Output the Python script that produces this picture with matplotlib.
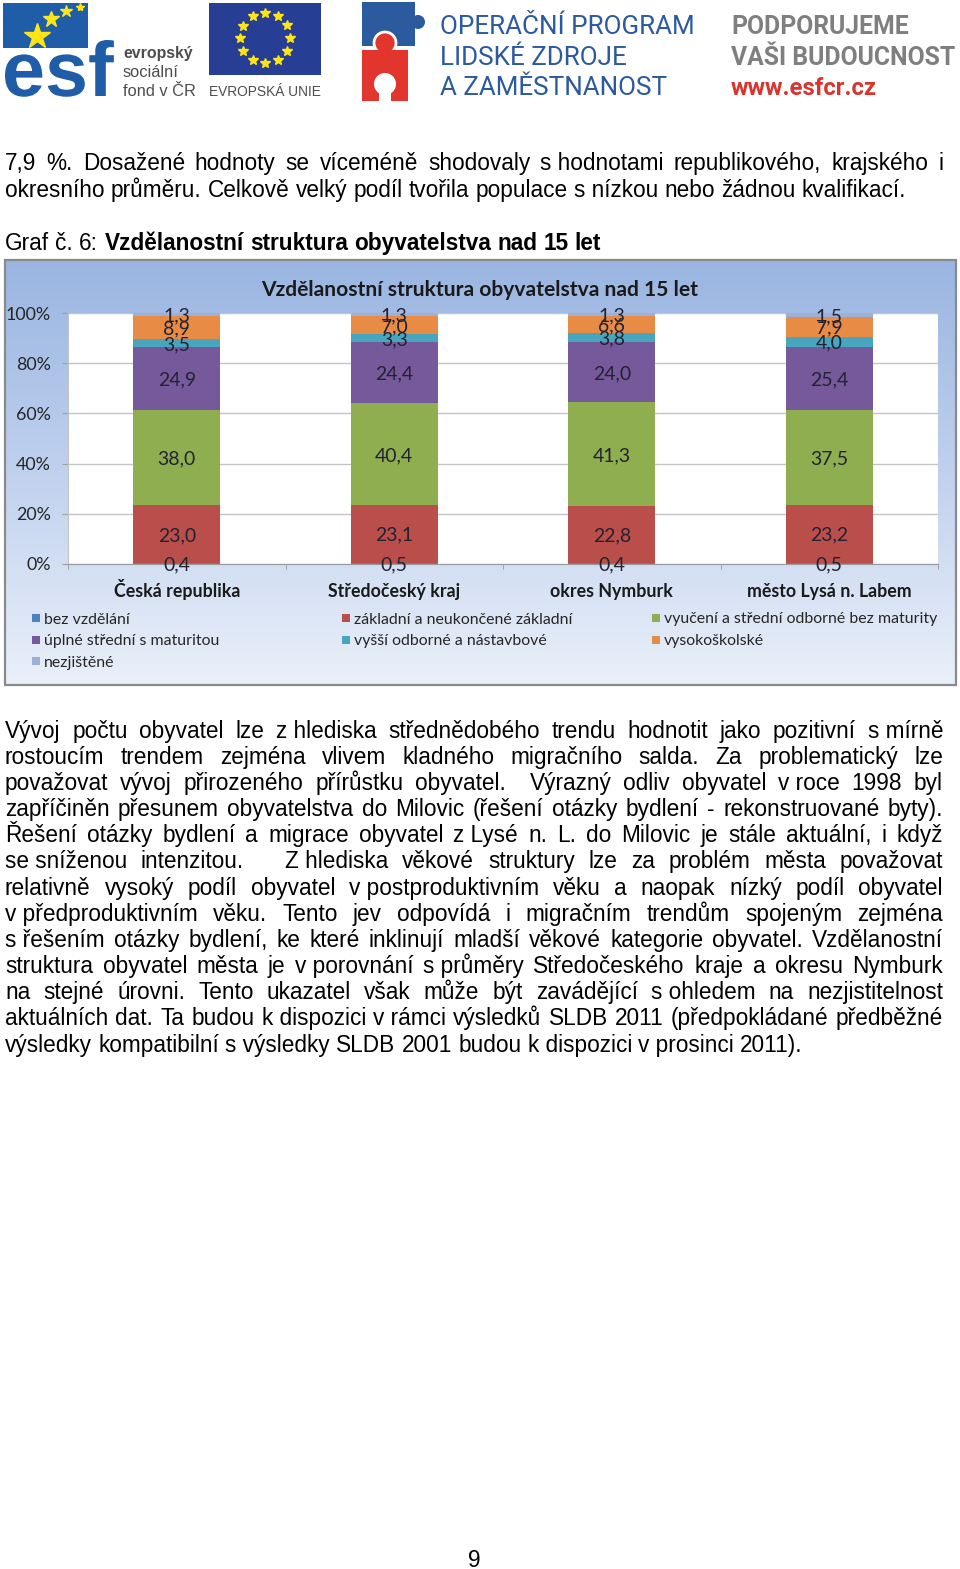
import matplotlib
matplotlib.use("Agg")
import matplotlib.pyplot as plt
import numpy as np
from matplotlib import font_manager
from matplotlib.patches import Rectangle, Circle
from matplotlib.colors import LinearSegmentedColormap
import matplotlib.patheffects as pe

# ---------------- data ----------------
categories = ["Česká republika", "Středočeský kraj", "okres Nymburk", "město Lysá n. Labem"]
series_names = ["bez vzdělání", "základní a neukončené základní",
                "vyučení a střední odborné bez maturity", "úplné střední s maturitou",
                "vyšší odborné a nástavbové", "vysokoškolské", "nezjištěné"]
bez_vzdelani = [0.4, 0.5, 0.4, 0.5]
zakladni = [23.0, 23.1, 22.8, 23.2]
vyuceni = [38.0, 40.4, 41.3, 37.5]
uplne_stredni = [24.9, 24.4, 24.0, 25.4]
vyssi_odborne = [3.5, 3.3, 3.8, 4.0]
vysokoskolske = [8.9, 7.0, 6.6, 7.9]
nezjistene = [1.3, 1.3, 1.3, 1.5]
y_ticks = [0, 20, 40, 60, 80, 100]
y_tick_labels = ["0%", "20%", "40%", "60%", "80%", "100%"]
chart_title = "Vzdělanostní struktura obyvatelstva nad 15 let"

series_values = [bez_vzdelani, zakladni, vyuceni, uplne_stredni,
                 vyssi_odborne, vysokoskolske, nezjistene]
colors = ["#4F81BD", "#BA4E4B", "#8FAE50", "#76599B", "#47A5BD", "#E88B44", "#9DB0D6"]

para1 = [
    "7,9 %. Dosažené hodnoty se víceméně shodovaly s\u00a0hodnotami republikového, krajského i",
    "okresního průměru. Celkově velký podíl tvořila populace s\u00a0nízkou nebo žádnou kvalifikací.",
]
para2 = [
    "Vývoj počtu obyvatel lze z\u00a0hlediska střednědobého trendu hodnotit jako pozitivní s\u00a0mírně",
    "rostoucím trendem zejména vlivem kladného migračního salda. Za problematický lze",
    "považovat vývoj přirozeného přírůstku obyvatel.  Výrazný odliv obyvatel v\u00a0roce 1998 byl",
    "zapříčiněn přesunem obyvatelstva do Milovic (řešení otázky bydlení - rekonstruované byty).",
    "Řešení otázky bydlení a migrace obyvatel z\u00a0Lysé n. L. do Milovic je stále aktuální, i když",
    "se\u00a0sníženou intenzitou.   Z\u00a0hlediska věkové struktury lze za problém města považovat",
    "relativně vysoký podíl obyvatel v\u00a0postproduktivním věku a naopak nízký podíl obyvatel",
    "v\u00a0předproduktivním věku. Tento jev odpovídá i migračním trendům spojeným zejména",
    "s\u00a0řešením otázky bydlení, ke které inklinují mladší věkové kategorie obyvatel. Vzdělanostní",
    "struktura obyvatel města je v\u00a0porovnání s\u00a0průměry Středočeského kraje a okresu Nymburk",
    "na stejné úrovni. Tento ukazatel však může být zavádějící s\u00a0ohledem na nezjistitelnost",
    "aktuálních dat. Ta budou k\u00a0dispozici v\u00a0rámci výsledků SLDB 2011 (předpokládané předběžné",
    "výsledky kompatibilní s\u00a0výsledky SLDB 2001 budou k\u00a0dispozici v\u00a0prosinci 2011).",
]

# ---------------- fonts ----------------
avail = {f.name for f in font_manager.fontManager.ttflist}
def pick(*names):
    for n in names:
        if n in avail:
            return n
    return "DejaVu Sans"
BODY = pick("Liberation Sans", "Arimo", "DejaVu Sans")
CHART = pick("Lato", "Open Sans", "DejaVu Sans")
NARROW = pick("Liberation Sans Narrow", "Roboto", "Liberation Sans")

W, H = 960, 1569
fig = plt.figure(figsize=(W / 100, H / 100), dpi=100, facecolor="white")
renderer = fig.canvas.get_renderer()

page = fig.add_axes([0, 0, 1, 1], zorder=0)
page.set_xlim(0, W)
page.set_ylim(H, 0)
page.axis("off")

def measure(s, fs, family, weight="normal"):
    t = fig.text(0, 0, s, fontsize=fs, family=family, weight=weight)
    w = t.get_window_extent(renderer).width
    t.remove()
    return w

def fit_fs(s, width, family, weight="normal"):
    return 10 * width / measure(s, 10, family, weight)

# ---------------- header logos ----------------
esf_blue = "#1F5DA8"
page.add_patch(Rectangle((3, 3), 85, 45, color=esf_blue, lw=0))
fs_esf = fit_fs("esf", 112, BODY, "bold")
page.text(2, 96, "esf", fontsize=fs_esf, family=BODY, weight="bold", color=esf_blue,
          ha="left", va="baseline",
          path_effects=[pe.withStroke(linewidth=2.5, foreground="white")])
for (sx, sy, ms) in [(37, 36, 19), (51, 19, 12), (66, 11, 9), (80, 7, 6)]:
    page.plot([sx], [sy], marker="*", ms=ms, color="#FFE516", mec="#FFE516")
gray_t = "#4D4D4D"
page.text(123, 58, "evropský", fontsize=fit_fs("evropský", 70, BODY, "bold"),
          family=BODY, weight="bold", color=gray_t, va="baseline")
fs_sm = fit_fs("fond v ČR", 73, BODY)
page.text(123, 77, "sociální", fontsize=fs_sm, family=BODY, color=gray_t, va="baseline")
page.text(123, 96, "fond v ČR", fontsize=fs_sm, family=BODY, color=gray_t, va="baseline")

page.add_patch(Rectangle((209, 3), 112, 72, color="#263E94", lw=0))
for k in range(12):
    a = 2 * np.pi * k / 12
    page.plot([265 + 25 * np.cos(a)], [38 + 25 * np.sin(a)], marker="*", ms=7,
              color="#FFE516", mec="#FFE516")
page.text(209, 96, "EVROPSKÁ UNIE", fontsize=fit_fs("EVROPSKÁ UNIE", 112, BODY),
          family=BODY, color=gray_t, va="baseline")

# puzzle pieces
op_blue = "#2C5A9E"
op_red = "#E1352E"
page.add_patch(Rectangle((362, 2), 53, 44, color=op_blue, lw=0))
page.add_patch(Circle((418, 22), 7, color=op_blue, lw=0))
page.add_patch(Rectangle((362, 50), 46, 51, color=op_red, lw=0))
page.add_patch(Circle((385, 43), 11, fc=op_red, ec="white", lw=2))
page.add_patch(Rectangle((375, 50), 20, 6, color=op_red, lw=0))
page.add_patch(Circle((385, 84), 11, color="white", lw=0))
page.add_patch(Rectangle((379, 84), 12, 18, color="white", lw=0))

fs_op = fit_fs("OPERAČNÍ PROGRAM", 253, NARROW)
for txt, yb in [("OPERAČNÍ PROGRAM", 34), ("LIDSKÉ ZDROJE", 65), ("A ZAMĚSTNANOST", 95)]:
    page.text(440, yb, txt, fontsize=fs_op, family=NARROW, color=op_blue, va="baseline")
fs_pd = fit_fs("VAŠI BUDOUCNOST", 224, NARROW, "bold")
page.text(731, 34, "PODPORUJEME", fontsize=fs_pd, family=NARROW, weight="bold",
          color="#7F7F7F", va="baseline")
page.text(731, 65, "VAŠI BUDOUCNOST", fontsize=fs_pd, family=NARROW, weight="bold",
          color="#7F7F7F", va="baseline")
page.text(731, 95, "www.esfcr.cz", fontsize=fit_fs("www.esfcr.cz", 147, NARROW, "bold"),
          family=NARROW, weight="bold", color="#D9342E", va="baseline")

# ---------------- body text ----------------
fs_body = fit_fs(para2[-1], 801, BODY)
em_px = fs_body * 100 / 72
space_w = measure("x x", fs_body, BODY) - measure("xx", fs_body, BODY)
X0, X1 = 5, 943

def draw_line(line, yc, justify, weight="normal", x0=X0):
    yb = yc + 0.34 * em_px
    tokens = line.split(" ")
    texts, widths = [], []
    for tok in tokens:
        if tok == "":
            texts.append(None)
            widths.append(0.0)
            continue
        t = page.text(0, yb, tok, fontsize=fs_body, family=BODY, weight=weight,
                      ha="left", va="baseline", color="black")
        texts.append(t)
        widths.append(t.get_window_extent(renderer).width)
    ngaps = max(len(tokens) - 1, 1)
    gap = (X1 - x0 - sum(widths)) / ngaps if justify else space_w
    x = x0
    for t, w in zip(texts, widths):
        if t is not None:
            t.set_x(x)
        x += w + gap
    return x

draw_line(para1[0], 162, True)
draw_line(para1[1], 189, False)
xe = draw_line("Graf č. 6:", 242, False)
draw_line("Vzdělanostní struktura obyvatelstva nad 15 let", 242, False, weight="bold", x0=xe)

for i, line in enumerate(para2):
    draw_line(line, 730 + i * 26.15, i < len(para2) - 1)

page.text(474, 1559 + 0.34 * em_px, "9", fontsize=fs_body, family=BODY,
          ha="center", va="baseline")

# ---------------- chart frame ----------------
grad = np.linspace(0, 1, 256).reshape(-1, 1)
cmap = LinearSegmentedColormap.from_list("bg", ["#99B5E1", "#C0D1EE", "#EAF0F9"])
page.imshow(grad, cmap=cmap, extent=(5, 956, 685, 260), aspect="auto",
            interpolation="bilinear", zorder=0)
page.add_patch(Rectangle((5, 260), 951, 425, fill=False, ec="#8A8A8A", lw=1.6, zorder=1))
page.set_xlim(0, W)
page.set_ylim(H, 0)

page.text(479.5, 289 + 7, chart_title, fontsize=fit_fs(chart_title, 437, CHART, "bold"),
          family=CHART, weight="bold", color="#1A1A1A", ha="center", va="baseline", zorder=2)

# ---------------- chart ----------------
L, R, T, B = 68, 938, 313, 564
ax = fig.add_axes([L / W, 1 - B / H, (R - L) / W, (B - T) / H], zorder=2)
ax.set_facecolor("white")
xpos = np.arange(len(categories))
vals = np.array(series_values, dtype=float)
totals = vals.sum(axis=0)
pct = vals / totals * 100
bottom = np.zeros(len(categories))
fs_lab = fit_fs("24,9", 34, CHART) * 1.12
for k in range(len(series_names)):
    ax.bar(xpos, pct[k], 0.4, bottom=bottom, color=colors[k], lw=0, zorder=2)
    for i in range(len(categories)):
        ax.text(xpos[i], bottom[i] + pct[k][i] / 2,
                f"{series_values[k][i]:.1f}".replace(".", ","),
                ha="center", va="center_baseline", fontsize=fs_lab, family=CHART,
                color="#222233", zorder=5, clip_on=False)
    bottom += pct[k]

ax.set_xlim(-0.5, len(categories) - 0.5)
ax.set_ylim(0, 100)
ax.set_yticks(y_ticks)
ax.set_yticklabels(y_tick_labels)
ax.yaxis.grid(True, color="#C4C4C4", lw=1)
ax.set_axisbelow(True)
for s in ["top", "right"]:
    ax.spines[s].set_visible(False)
ax.spines["left"].set_color("#C4C4C4")
ax.spines["bottom"].set_color("#9A9A9A")
fs_tick = fit_fs("100%", 42, CHART) * 1.08
ax.tick_params(axis="y", length=4.3, color="#A0A0A0", labelsize=fs_tick,
               labelcolor="#262626", pad=8.0)
for lab in ax.get_yticklabels():
    lab.set_family(CHART)
ax.set_xticks(xpos)
ax.set_xticklabels(categories)
fs_cat = fit_fs("Česká republika", 123, CHART, "bold") * 1.02
ax.tick_params(axis="x", which="major", length=0, labelsize=fs_cat, pad=24,
               labelcolor="#1A1A1A")
for lab in ax.get_xticklabels():
    lab.set_family(CHART)
    lab.set_weight("bold")
    lab.set_va("baseline")
ax.set_xticks(np.arange(len(categories) + 1) - 0.5, minor=True)
ax.tick_params(axis="x", which="minor", length=3.6, color="#9A9A9A")

# ---------------- legend ----------------
fs_leg = fit_fs("vyučení a střední odborné bez maturity", 274, CHART)
col_x = [44, 354, 664]
row_y = [618, 640, 661]
for k, name in enumerate(series_names):
    r, c = divmod(k, 3)
    tx, ty = col_x[c], row_y[r]
    page.add_patch(Rectangle((tx - 12, ty - 4.5), 8, 8, color=colors[k], lw=0, zorder=2))
    page.text(tx, ty, name, fontsize=fs_leg, family=CHART, color="#262626",
              ha="left", va="center_baseline", zorder=2)

fig.savefig("out.png", dpi=100, facecolor="white")
